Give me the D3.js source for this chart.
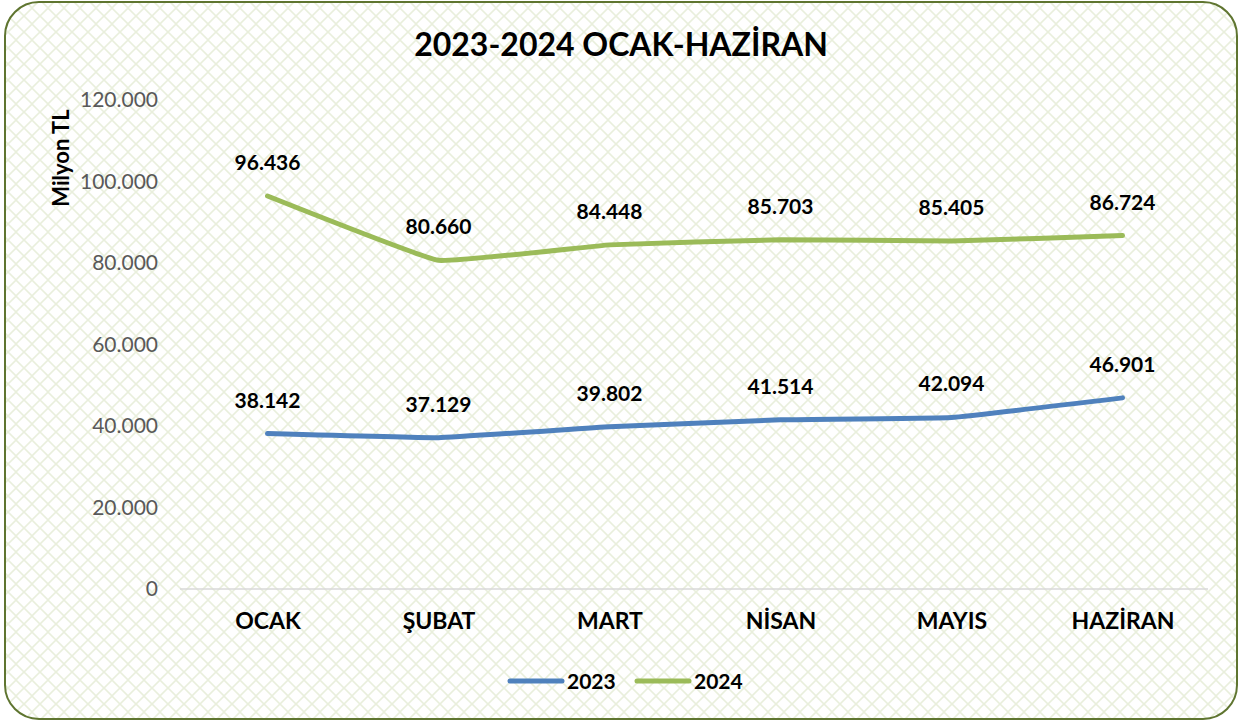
<!DOCTYPE html>
<html>
<head>
<meta charset="utf-8">
<script src="https://cdn.jsdelivr.net/npm/d3@7"></script>
<style>
    body { margin: 0; background: #fff; }
    svg text { font-family: Lato, "Open Sans", sans-serif; }
</style>
</head>
<body>
<div class="chart-container"></div>
<script>
const months = ["OCAK", "ŞUBAT", "MART", "NİSAN", "MAYIS", "HAZİRAN"];
const values2023 = [38142, 37129, 39802, 41514, 42094, 46901];
const values2024 = [96436, 80660, 84448, 85703, 85405, 86724];
const yTicks = [0, 20000, 40000, 60000, 80000, 100000, 120000];
const seriesNames = ["2023", "2024"];
const seriesColors = ["#4f81bd", "#9bbb59"];

const width = 1242, height = 722;
const margin = { top: 100, right: 34, bottom: 133, left: 182 };
const plotW = width - margin.left - margin.right;

const fmt = v => d3.format(",")(v).replace(/,/g, ".");

const svg = d3.select(".chart-container")
    .append("svg")
    .attr("width", width)
    .attr("height", height);

// lattice background
const defs = svg.append("defs");
const pattern = defs.append("pattern")
    .attr("id", "lattice")
    .attr("width", 16)
    .attr("height", 16)
    .attr("patternUnits", "userSpaceOnUse");
pattern.append("rect").attr("width", 16).attr("height", 16).attr("fill", "#fff");
pattern.append("path")
    .attr("d", "M0,8 L8,0 L16,8 L8,16 Z")
    .attr("fill", "none")
    .attr("stroke", "#e9efdc")
    .attr("stroke-width", 1.6);

svg.append("rect")
    .attr("x", 5).attr("y", 2)
    .attr("width", width - 10).attr("height", height - 5)
    .attr("rx", 34).attr("ry", 34)
    .attr("fill", "url(#lattice)")
    .attr("stroke", "#5f7530")
    .attr("stroke-width", 2);

svg.append("text")
    .attr("x", 621).attr("y", 56)
    .attr("text-anchor", "middle")
    .attr("font-size", 32)
    .attr("font-weight", "bold")
    .attr("fill", "#000")
    .text("2023-2024 OCAK-HAZİRAN");

const g = svg.append("g")
    .attr("transform", `translate(${margin.left}, ${margin.top})`);

const xScale = d3.scalePoint()
    .domain(months)
    .range([0, plotW])
    .padding(0.5);

const yScale = d3.scaleLinear()
    .domain([0, 120000])
    .range([489, 0]);

// y axis labels
const yAxis = d3.axisLeft(yScale)
    .tickValues(yTicks)
    .tickSize(0)
    .tickPadding(24)
    .tickFormat(fmt);

g.append("g")
    .call(yAxis)
    .call(s => s.select(".domain").remove())
    .call(s => s.selectAll("text")
        .attr("font-family", "Lato, sans-serif")
        .attr("font-size", 21)
        .attr("fill", "#595959"));

// baseline
g.append("line")
    .attr("x1", -2).attr("x2", plotW)
    .attr("y1", yScale(0)).attr("y2", yScale(0))
    .attr("stroke", "#d9d9d9")
    .attr("stroke-width", 1.5);

// x axis labels
const xAxis = d3.axisBottom(xScale)
    .tickSize(0)
    .tickPadding(24);

g.append("g")
    .attr("transform", `translate(0, ${yScale(0)})`)
    .call(xAxis)
    .call(s => s.select(".domain").remove())
    .call(s => s.selectAll("text")
        .attr("font-family", "Lato, sans-serif")
        .attr("font-size", 23)
        .attr("font-weight", "bold")
        .attr("fill", "#000"));

// axis title
svg.append("text")
    .attr("transform", "translate(69, 158) rotate(-90)")
    .attr("text-anchor", "middle")
    .attr("font-size", 22)
    .attr("font-weight", "bold")
    .attr("fill", "#000")
    .text("Milyon TL");

const line = d3.line()
    .x((d, i) => xScale(months[i]))
    .y(d => yScale(d))
    .curve(d3.curveCardinal.tension(0.75));

[values2023, values2024].forEach((vals, k) => {
    g.append("path")
        .datum(vals)
        .attr("d", line)
        .attr("fill", "none")
        .attr("stroke", seriesColors[k])
        .attr("stroke-width", 5)
        .attr("stroke-linecap", "round")
        .attr("stroke-linejoin", "round");

    g.selectAll(null)
        .data(vals)
        .enter()
        .append("text")
        .attr("x", (d, i) => xScale(months[i]))
        .attr("y", d => yScale(d) - 26)
        .attr("text-anchor", "middle")
        .attr("font-size", 21)
        .attr("font-weight", "bold")
        .attr("fill", "#000")
        .text(fmt);
});

// legend
const legend = svg.append("g").attr("transform", "translate(508, 681)");
seriesNames.forEach((name, k) => {
    const item = legend.append("g").attr("transform", `translate(${k * 127}, 0)`);
    item.append("line")
        .attr("x1", 2).attr("x2", 54)
        .attr("stroke", seriesColors[k])
        .attr("stroke-width", 5)
        .attr("stroke-linecap", "round");
    item.append("text")
        .attr("x", 59).attr("y", 8)
        .attr("font-size", 21)
        .attr("font-weight", "bold")
        .attr("fill", "#000")
        .text(name);
});
</script>
</body>
</html>
